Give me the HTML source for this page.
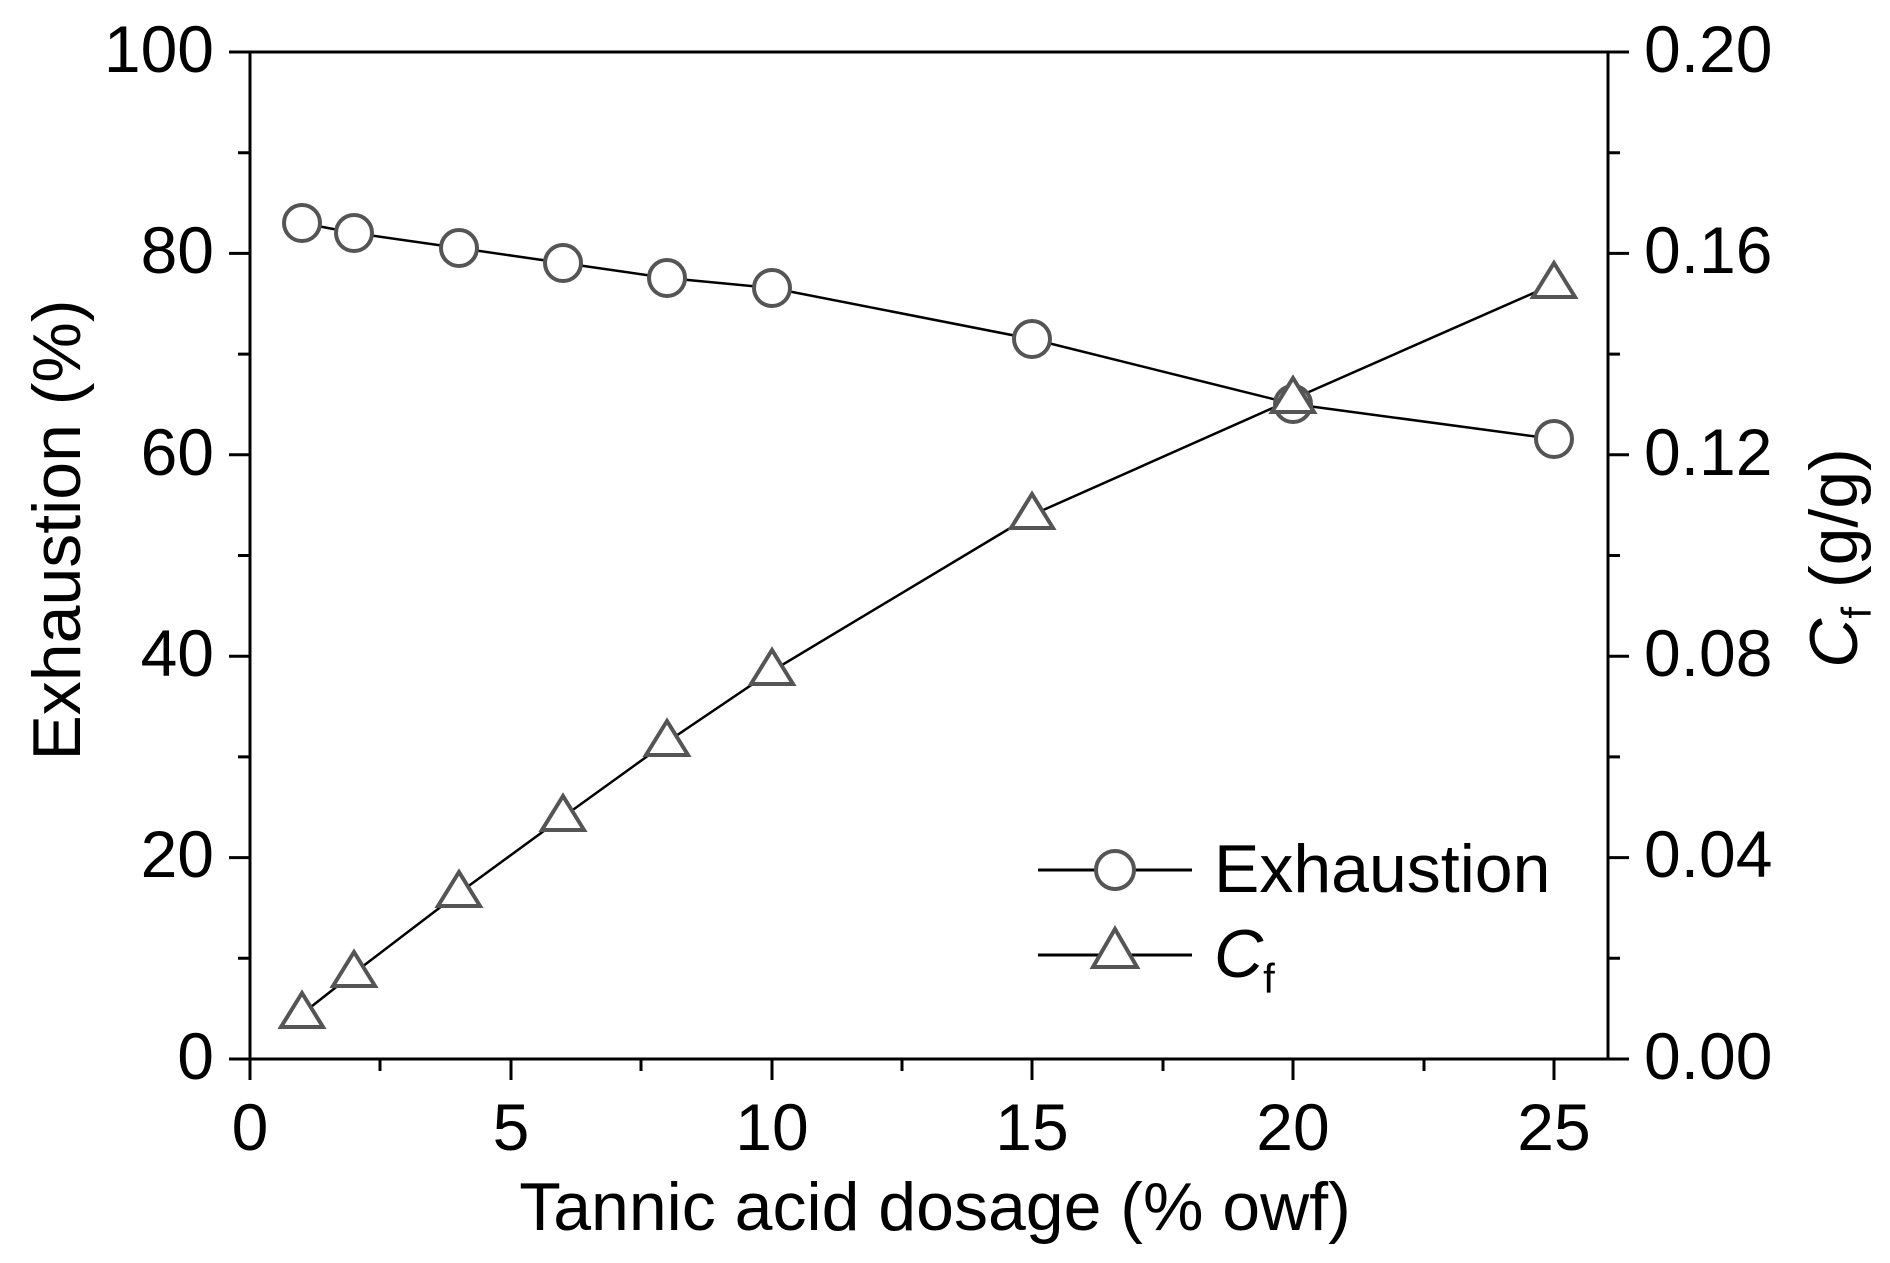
<!DOCTYPE html>
<html><head><meta charset="utf-8"><style>
html,body{margin:0;padding:0;background:#fff;}
svg{display:block;}
text{font-family:"Liberation Sans",Arial,sans-serif;fill:#000;}
</style></head><body>
<svg width="1890" height="1263" viewBox="0 0 1890 1263" xmlns="http://www.w3.org/2000/svg">
<g stroke="#000" stroke-width="3" fill="none">
<rect x="250" y="52" width="1358" height="1007"/>
<path d="M229 52H250M229 253.4H250M229 454.8H250M229 656.2H250M229 857.6H250M229 1059H250"/>
<path d="M238 152.7H250M238 354.1H250M238 555.5H250M238 756.9H250M238 958.3H250"/>
<path d="M1608 52H1629M1608 253.4H1629M1608 454.8H1629M1608 656.2H1629M1608 857.6H1629M1608 1059H1629"/>
<path d="M1608 152.7H1620M1608 354.1H1620M1608 555.5H1620M1608 756.9H1620M1608 958.3H1620"/>
<path d="M250 1059V1080M511 1059V1080M772 1059V1080M1032 1059V1080M1293 1059V1080M1554 1059V1080"/>
<path d="M380 1059V1071M641 1059V1071M902 1059V1071M1163 1059V1071M1424 1059V1071"/>
</g>
<g font-size="66" text-anchor="end">
<text x="214" y="72">100</text><text x="214" y="273">80</text><text x="214" y="475">60</text>
<text x="214" y="676">40</text><text x="214" y="877">20</text><text x="214" y="1079">0</text>
</g>
<g font-size="66" text-anchor="start">
<text x="1644" y="72">0.20</text><text x="1644" y="273">0.16</text><text x="1644" y="475">0.12</text>
<text x="1644" y="676">0.08</text><text x="1644" y="877">0.04</text><text x="1644" y="1079">0.00</text>
</g>
<g font-size="66" text-anchor="middle">
<text x="250" y="1150">0</text><text x="511" y="1150">5</text><text x="772" y="1150">10</text>
<text x="1032" y="1150">15</text><text x="1293" y="1150">20</text><text x="1554" y="1150">25</text>
</g>
<text x="935" y="1230" font-size="68" text-anchor="middle">Tannic acid dosage (% owf)</text>
<text transform="translate(80,530) rotate(-90)" font-size="68" text-anchor="middle">Exhaustion (%)</text>
<text transform="translate(1857,558) rotate(-90)" font-size="68" text-anchor="middle"><tspan font-style="italic">C</tspan><tspan font-size="42" dy="14">f</tspan><tspan dy="-14"> (g/g)</tspan></text>
<g stroke="#000" stroke-width="2.5" fill="none">
<polyline points="302,223 354,233 459,248 563,263 667,278 772,288 1032,339 1293,404 1554,439"/>
<polyline points="302,1014 354,973 459,893 563,817 667,742 772,671 1032,515 1293,399 1554,284"/>
</g>
<g stroke="#555" stroke-width="4" fill="#fff">
<circle cx="302" cy="223" r="18"/><circle cx="354" cy="233" r="18"/><circle cx="459" cy="248" r="18"/>
<circle cx="563" cy="263" r="18"/><circle cx="667" cy="278" r="18"/><circle cx="772" cy="288" r="18"/>
<circle cx="1032" cy="339" r="18"/><circle cx="1293" cy="404" r="18"/><circle cx="1554" cy="439" r="18"/>
</g>
<g stroke="#555" stroke-width="4" fill="#fff">
<polygon points="302,993 323,1027 281,1027"/><polygon points="354,952 375,986 333,986"/>
<polygon points="459,872 480,906 438,906"/><polygon points="563,796 584,830 542,830"/>
<polygon points="667,721 688,755 646,755"/><polygon points="772,650 793,684 751,684"/>
<polygon points="1032,494 1053,528 1011,528"/><polygon points="1293,378 1314,412 1272,412"/>
<polygon points="1554,263 1575,297 1533,297"/>
</g>
<path d="M1038 870H1192M1038 955H1192" stroke="#000" stroke-width="3"/>
<circle cx="1115" cy="870" r="19" stroke="#555" stroke-width="4" fill="#fff"/>
<polygon points="1115,929 1137,967 1093,967" stroke="#555" stroke-width="4" fill="#fff"/>
<text x="1214" y="892" font-size="68">Exhaustion</text>
<text x="1214" y="977" font-size="68"><tspan font-style="italic">C</tspan><tspan font-size="42" dy="16">f</tspan></text>
</svg>
</body></html>
